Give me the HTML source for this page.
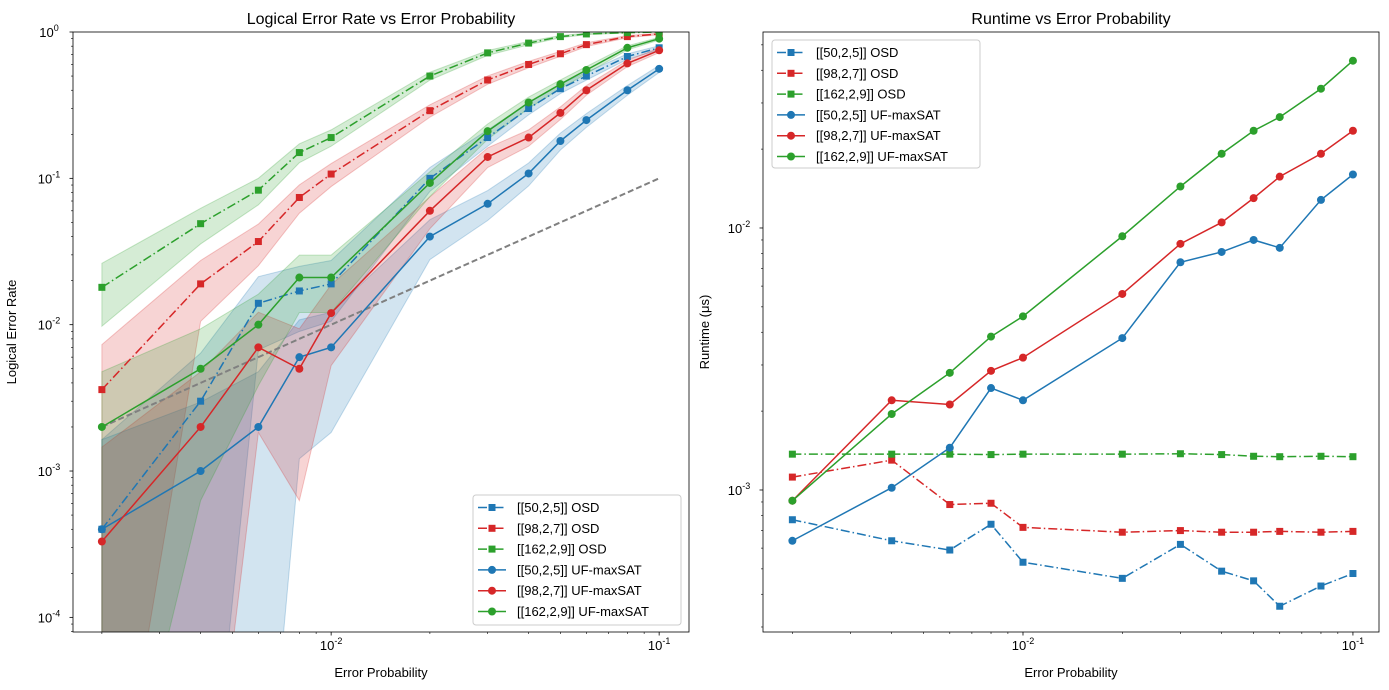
<!DOCTYPE html>
<html><head><meta charset="utf-8"><style>
html,body{margin:0;background:#fff;overflow:hidden;width:1389px;height:690px;}
svg{display:block;font-family:"Liberation Sans","DejaVu Sans",sans-serif;}
</style></head><body>
<svg id="s" width="1389" height="690" xmlns="http://www.w3.org/2000/svg"></svg>
<script>
const xs=[0.002,0.004,0.006,0.008,0.01,0.02,0.03,0.04,0.05,0.06,0.08,0.1];
const labels=["[[50,2,5]] OSD","[[98,2,7]] OSD","[[162,2,9]] OSD","[[50,2,5]] UF-maxSAT","[[98,2,7]] UF-maxSAT","[[162,2,9]] UF-maxSAT"];
const lerOsd50=[4e-4,3e-3,1.4e-2,1.7e-2,1.9e-2,0.1,0.19,0.3,0.41,0.5,0.68,0.78];
const lerOsd98=[3.6e-3,1.9e-2,3.7e-2,7.4e-2,0.107,0.29,0.47,0.6,0.71,0.82,0.93,0.97];
const lerOsd162=[1.8e-2,4.9e-2,8.3e-2,0.15,0.19,0.5,0.72,0.84,0.93,0.97,0.99,1.0];
const lerUf50=[4e-4,1e-3,2e-3,6e-3,7e-3,4e-2,6.7e-2,0.108,0.18,0.25,0.4,0.56];
const lerUf98=[3.3e-4,2e-3,7e-3,5e-3,1.2e-2,6e-2,0.14,0.19,0.28,0.4,0.61,0.75];
const lerUf162=[2e-3,5e-3,1e-2,2.1e-2,2.1e-2,9.3e-2,0.21,0.33,0.44,0.55,0.78,0.9];
const rtOsd50=[7.7e-4,6.4e-4,5.9e-4,7.4e-4,5.3e-4,4.6e-4,6.2e-4,4.9e-4,4.5e-4,3.6e-4,4.3e-4,4.8e-4];
const rtOsd98=[1.12e-3,1.3e-3,8.8e-4,8.9e-4,7.2e-4,6.9e-4,7.0e-4,6.9e-4,6.9e-4,6.95e-4,6.9e-4,6.95e-4];
const rtOsd162=[1.37e-3,1.37e-3,1.37e-3,1.365e-3,1.37e-3,1.37e-3,1.375e-3,1.365e-3,1.345e-3,1.34e-3,1.345e-3,1.34e-3];
const rtUf50=[6.4e-4,1.02e-3,1.45e-3,2.45e-3,2.2e-3,3.8e-3,7.4e-3,8.1e-3,9.0e-3,8.4e-3,1.28e-2,1.6e-2];
const rtUf98=[9.1e-4,2.2e-3,2.12e-3,2.85e-3,3.2e-3,5.6e-3,8.7e-3,1.05e-2,1.3e-2,1.57e-2,1.92e-2,2.35e-2];
const rtUf162=[9.1e-4,1.95e-3,2.8e-3,3.85e-3,4.6e-3,9.3e-3,1.44e-2,1.92e-2,2.35e-2,2.65e-2,3.4e-2,4.35e-2];
const shots=1000;

const NS="http://www.w3.org/2000/svg";
const svg=document.getElementById('s');
const C=['#1f77b4','#d62728','#2ca02c'];
function el(t,a,p){const e=document.createElementNS(NS,t);for(const k in a)e.setAttribute(k,a[k]);(p||svg).appendChild(e);return e;}
function lg(v){return Math.log10(v);}

function makeAxes(L,R,T,B,xmin,xmax,ymin,ymax){
  const fx=v=>L+(lg(v)-lg(xmin))/(lg(xmax)-lg(xmin))*(R-L);
  const fy=v=>B-(lg(v)-lg(ymin))/(lg(ymax)-lg(ymin))*(B-T);
  return {fx,fy,L,R,T,B,xmin,xmax,ymin,ymax};
}
function drawFrame(ax,name,title,xl,yl,yLabX){
  const g=el('g',{});
  
  
  for(let d=-3;d<=0;d++)for(let m=1;m<10;m++){const v=m*Math.pow(10,d);if(v<ax.xmin||v>ax.xmax)continue;
    const x=ax.fx(v);el('line',{x1:x,x2:x,y1:ax.B,y2:ax.B+(m==1?3.5:2),stroke:'#000','stroke-width':m==1?0.8:0.6},g);
    if(m==1){const t=el('text',{x:x,y:ax.B+18,'text-anchor':'middle','font-size':13},g);t.innerHTML='10<tspan dy="-6" font-size="9">'+d+'</tspan>';
      }}
  for(let d=-5;d<=0;d++)for(let m=1;m<10;m++){const v=m*Math.pow(10,d);if(v<ax.ymin||v>ax.ymax*1.0001)continue;
    const y=ax.fy(v);el('line',{x1:ax.L,x2:ax.L-(m==1?3.5:2),y1:y,y2:y,stroke:'#000','stroke-width':m==1?0.8:0.6},g);
    if(m==1){const t=el('text',{x:ax.L-24,y:y+5,'text-anchor':'middle','font-size':13},g);t.innerHTML='10<tspan dy="-6" font-size="9">'+d+'</tspan>';
      }}
  el('rect',{x:ax.L,y:ax.T,width:ax.R-ax.L,height:ax.B-ax.T,fill:'none',stroke:'#000','stroke-width':0.8},g);
  const tt=el('text',{x:(ax.L+ax.R)/2,y:24,'text-anchor':'middle','font-size':16},g);tt.textContent=title;
  
  const xt=el('text',{x:(ax.L+ax.R)/2,y:677,'text-anchor':'middle','font-size':13},g);xt.textContent=xl;
  
  const yt=el('text',{x:yLabX,y:(ax.T+ax.B)/2,'text-anchor':'middle','font-size':13,transform:`rotate(-90 ${yLabX} ${(ax.T+ax.B)/2})`},g);yt.textContent=yl;
  
}
function drawSeries(ax,clip,ys,color,dash,marker,name){
  const g=el('g',{'clip-path':`url(#${clip})`});
  
  
  const pts=xs.map((x,i)=>[ax.fx(x),ax.fy(ys[i])]);
  el('polyline',{points:pts.map(p=>p.join(',')).join(' '),fill:'none',stroke:color,'stroke-width':1.5,'stroke-dasharray':dash?'9,3,1.5,3':'none'},g);
  pts.forEach(p=>{const m=marker=='s'?el('rect',{x:p[0]-3.5,y:p[1]-3.5,width:7,height:7,fill:color},g):el('circle',{cx:p[0],cy:p[1],r:4,fill:color},g);
    });
}
function drawBand(ax,clip,ys,color,name){
  const up=[],lo=[];
  ys.forEach((p,i)=>{const s=1.96*Math.sqrt(p*(1-p)/shots);up.push([ax.fx(xs[i]),ax.fy(Math.min(p+s,10))]);lo.push([ax.fx(xs[i]),ax.fy(Math.max(p-s,1e-6))]);});
  const pg=el('polygon',{points:up.concat(lo.reverse()).map(p=>p.join(',')).join(' '),fill:color,'fill-opacity':0.2,stroke:color,'stroke-opacity':0.25,'stroke-width':1,'clip-path':`url(#${clip})`});
  
}
function legend(x,y,w,h){
  const g=el('g',{});
  
  el('rect',{x:x,y:y,width:w,height:h,rx:3,fill:'#fff','fill-opacity':0.85,stroke:'#ccc'},g);
  labels.forEach((l,i)=>{const cy=y+12.5+i*20.8,c=C[i%3];const e=el('g',{},g);
    
    el('line',{x1:x+5,x2:x+33,y1:cy,y2:cy,stroke:c,'stroke-width':1.5,'stroke-dasharray':i<3?'9,3,1.5,3':'none'},e);
    if(i<3)el('rect',{x:x+15.5,y:cy-3.5,width:7,height:7,fill:c},e);else el('circle',{cx:x+19,cy:cy,r:4,fill:c},e);
    const t=el('text',{x:x+44,y:cy+4.5,'font-size':13},e);t.textContent=l;});
}
const defs=el('defs',{});
const A=makeAxes(73,689,32,632,Math.pow(10,-2.787),Math.pow(10,-0.909),Math.pow(10,-4.1),1);
const B=makeAxes(763,1379,32,632,Math.pow(10,-2.788),Math.pow(10,-0.921),Math.pow(10,-3.542),Math.pow(10,-1.252));
[['cA',A],['cB',B]].forEach(([id,a])=>{const c=el('clipPath',{id:id},defs);el('rect',{x:a.L,y:a.T,width:a.R-a.L,height:a.B-a.T},c);});

const ler=[lerOsd50,lerOsd98,lerOsd162,lerUf50,lerUf98,lerUf162];
const rt=[rtOsd50,rtOsd98,rtOsd162,rtUf50,rtUf98,rtUf162];
ler.forEach((s,i)=>drawBand(A,'cA',s,C[i%3],'ci-band'));
const ref=el('line',{x1:A.fx(0.002),y1:A.fy(0.002),x2:A.fx(0.1),y2:A.fy(0.1),stroke:'#808080','stroke-width':2,'stroke-dasharray':'6,3'});

ler.forEach((s,i)=>drawSeries(A,'cA',s,C[i%3],i<3,i<3?'s':'o','ler-series'));
rt.forEach((s,i)=>drawSeries(B,'cB',s,C[i%3],i<3,i<3?'s':'o','runtime-series'));
drawFrame(A,'left-axes','Logical Error Rate vs Error Probability','Error Probability','Logical Error Rate',16);
drawFrame(B,'right-axes','Runtime vs Error Probability','Error Probability','Runtime (μs)',709);
legend(473,495,208,130);
legend(772,40,208,128);
</script>
</body></html>
